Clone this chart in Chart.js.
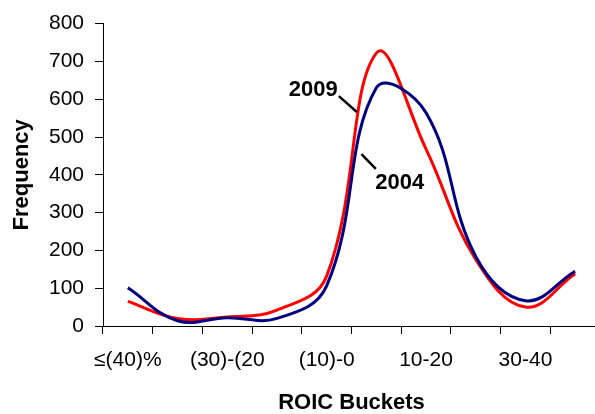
<!DOCTYPE html>
<html>
<head>
<meta charset="utf-8">
<script src="https://cdn.jsdelivr.net/npm/chart.js@4.4.1/dist/chart.umd.min.js"></script>
<style>
  html, body { margin: 0; padding: 0; background: #fff; overflow: hidden; }
  #wrap { width: 595px; height: 414px; overflow: hidden; }
</style>
</head>
<body>
<div id="wrap"><canvas id="roic"></canvas></div>
<script>
// ROIC buckets (10% wide)
const buckets = ['≤(40)%', '(40)-(30)', '(30)-(20)', '(20)-(10)', '(10)-0', '0-10', '10-20', '20-30', '30-40', '>40'];
// only every other bucket is labelled on the axis (as in the original, incl. the cut-off one)
const tickLabels = ['≤(40)%', '', '(30)-(20', '', '(10)-0', '', '10-20', '', '30-40', ''];

const freq2004 = [101, 14, 22, 20, 106, 630, 564, 184, 67, 145];
const freq2009 = [65, 20, 24, 42, 132, 722, 468, 176, 50, 138];

const yTicks = [0, 100, 200, 300, 400, 500, 600, 700, 800];

const FONT = '"Liberation Sans", Arial, Helvetica, sans-serif';

// labels "2009" / "2004" with their short leader lines, placed in data units
const callouts = [
    { text: '2009', label: [3.73, 625], line: [[4.245, 608], [4.608, 566]] },
    { text: '2004', label: [5.47, 379], line: [[4.70, 455], [4.99, 416]] }
];

const calloutPlugin = {
    id: 'callouts',
    afterDatasetsDraw(chart) {
        const { ctx, scales: { x, y } } = chart;
        ctx.save();
        ctx.strokeStyle = '#000';
        ctx.lineWidth = 2.5;
        ctx.fillStyle = '#000';
        ctx.font = 'bold 22px ' + FONT;
        ctx.textAlign = 'center';
        ctx.textBaseline = 'middle';
        for (const c of callouts) {
            ctx.beginPath();
            ctx.moveTo(x.getPixelForValue(c.line[0][0]), y.getPixelForValue(c.line[0][1]));
            ctx.lineTo(x.getPixelForValue(c.line[1][0]), y.getPixelForValue(c.line[1][1]));
            ctx.stroke();
            ctx.fillText(c.text, x.getPixelForValue(c.label[0]), y.getPixelForValue(c.label[1]));
        }
        ctx.restore();
    }
};

const canvas = document.getElementById('roic');
canvas.width = 605;
canvas.height = 414;

new Chart(canvas, {
    type: 'line',
    data: {
        labels: buckets,
        datasets: [
            {
                label: '2004',
                data: freq2004,
                borderColor: '#000080',
                borderWidth: 3,
                pointRadius: 0,
                tension: 0.4,
                fill: false
            },
            {
                label: '2009',
                data: freq2009,
                borderColor: '#ff0000',
                borderWidth: 3,
                pointRadius: 0,
                tension: 0.4,
                fill: false
            }
        ]
    },
    options: {
        responsive: false,
        animation: false,
        devicePixelRatio: 1,
        layout: { padding: { top: 18, right: 5, left: 0, bottom: 0 } },
        plugins: {
            legend: { display: false },
            tooltip: { enabled: false }
        },
        scales: {
            x: {
                offset: true,
                grid: {
                    offset: true,
                    drawOnChartArea: false,
                    drawTicks: true,
                    tickLength: 8,
                    color: '#000'
                },
                border: { color: '#000', width: 1 },
                ticks: {
                    autoSkip: false,
                    maxRotation: 0,
                    padding: 14,
                    color: '#000',
                    font: { family: FONT, size: 21 },
                    callback: (v, i) => tickLabels[i]
                },
                title: {
                    display: true,
                    text: 'ROIC Buckets',
                    color: '#000',
                    font: { family: FONT, size: 22, weight: 'bold', lineHeight: 1 },
                    padding: { top: 0, bottom: 0 }
                },
                afterFit(scale) { scale.height = 88; }
            },
            y: {
                min: 0,
                max: 800,
                afterBuildTicks(scale) { scale.ticks = yTicks.map(v => ({ value: v })); },
                grid: {
                    drawOnChartArea: false,
                    drawTicks: true,
                    tickLength: 8,
                    color: '#000'
                },
                border: { color: '#000', width: 1 },
                ticks: {
                    padding: 11,
                    color: '#000',
                    font: { family: FONT, size: 21 }
                },
                title: {
                    display: true,
                    text: 'Frequency',
                    color: '#000',
                    font: { family: FONT, size: 22, weight: 'bold', lineHeight: 1 },
                    padding: { top: 11, bottom: 0 }
                },
                afterFit(scale) { scale.width = 103; }
            }
        }
    },
    plugins: [calloutPlugin]
});
</script>
</body>
</html>
